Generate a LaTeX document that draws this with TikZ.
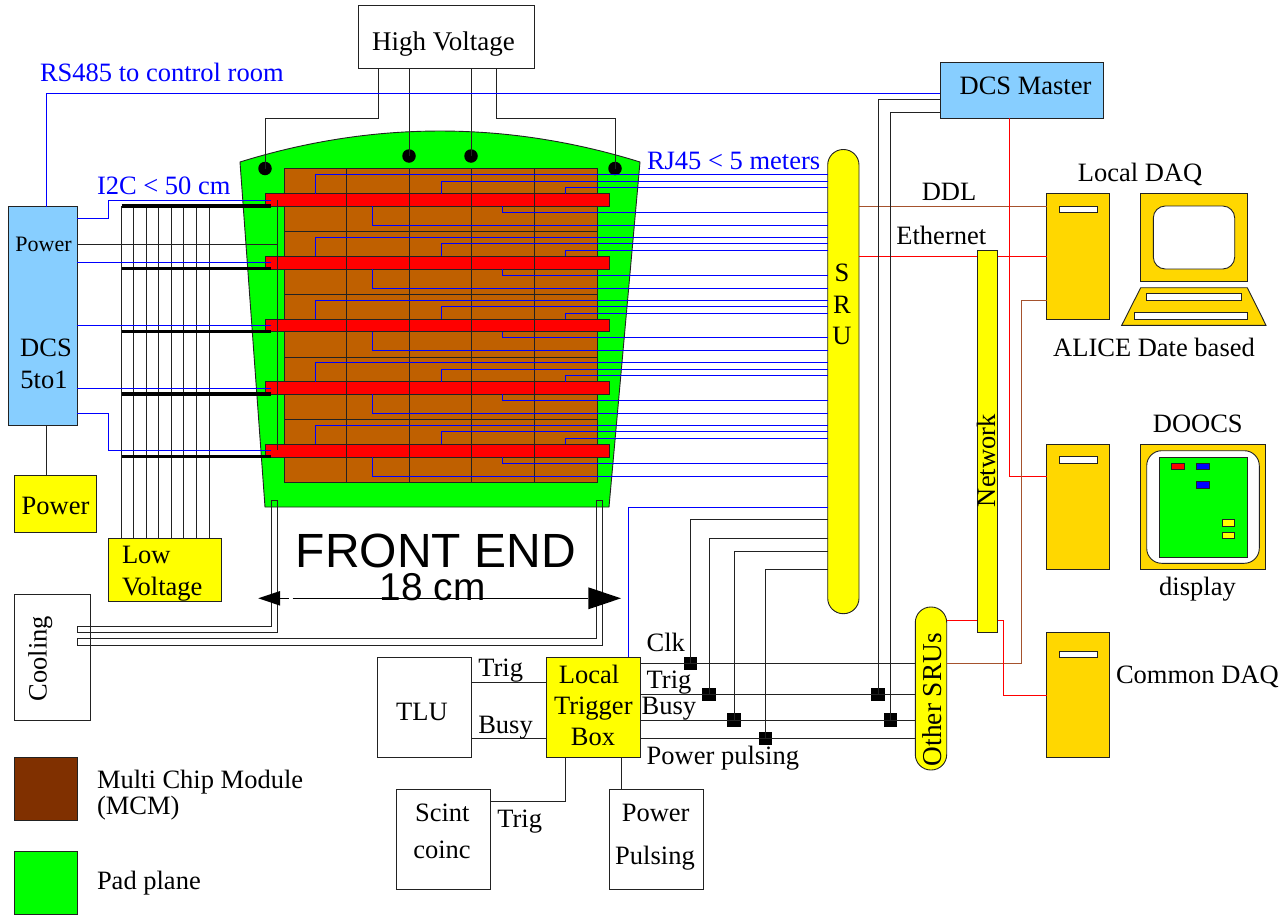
\documentclass[tikz,border=0pt]{standalone}
\usepackage{fontspec}
\setmainfont{Liberation Serif}
\setsansfont{Liberation Sans}
\definecolor{dblue}{HTML}{87CEFF}
\definecolor{gold}{HTML}{FFD700}
\definecolor{mcm}{HTML}{BF6000}
\definecolor{legbrown}{HTML}{803000}
\definecolor{wirebrown}{HTML}{A5522D}
\definecolor{wblue}{HTML}{0000FF}
\definecolor{edge}{HTML}{222222}
\definecolor{pyellow}{HTML}{FFFF00}
\definecolor{pgreen}{HTML}{00FF00}
\definecolor{pred}{HTML}{FF0000}
\tikzset{
  bx/.style={draw=edge,line width=0.9bp,inner sep=0pt,outer sep=0pt},
  whitebox/.style={bx,fill=white},
  yellowbox/.style={bx,fill=pyellow},
  bluebox/.style={bx,fill=dblue},
  goldbox/.style={bx,fill=gold},
  greenbox/.style={bx,fill=pgreen},
  lbl/.style={inner sep=0pt,outer sep=0pt,yshift=-0.7bp,font=\fontsize{26.5bp}{30bp}\selectfont,text=black},
  smalllbl/.style={lbl,font=\fontsize{22bp}{26bp}\selectfont},
  bluelbl/.style={lbl,text=wblue},
  wire/.style={draw=edge,line width=0.9bp},
  bwire/.style={draw=wblue,line width=0.9bp},
  rwire/.style={draw=pred,line width=0.9bp},
  nwire/.style={draw=wirebrown,line width=0.9bp},
  thickwire/.style={draw=black,line width=3.5bp},
  dot/.style={circle,fill=black,inner sep=0pt,minimum size=13.5bp},
  junction/.style={rectangle,fill=black,inner sep=0pt,minimum size=13.5bp},
}
% name, style, x1, y1, x2, y2
\newcommand{\pbox}[6]{%
  \pgfmathsetmacro{\pbw}{#5-#3}\pgfmathsetmacro{\pbh}{#6-#4}%
  \pgfmathsetmacro{\pbx}{(#3+#5)/2}\pgfmathsetmacro{\pby}{(#4+#6)/2}%
  \node[#2,minimum width=\pbw bp,minimum height=\pbh bp] (#1) at (\pbx,\pby) {};}
\begin{document}
\begin{tikzpicture}[x=1bp,y=-1bp,line join=miter]
\useasboundingbox (0,0) rectangle (1282,915);
% pad plane and MCM area
\draw[bx,fill=pgreen] (240,162) .. controls (373,120.7) and (507,120.7) .. (640,162) -- (609,507) -- (265,507) -- cycle;
\pbox{mcmarea}{bx,fill=mcm}{284}{168}{597}{482}
\foreach \yy in {231,294,357,419}{\draw[wire] (mcmarea.west |- 0,\yy) -- (mcmarea.east |- 0,\yy);}
% main boxes
\pbox{hv}{whitebox}{358.7}{5.7}{534}{68.7}
\pbox{dcsfive}{bluebox}{8.5}{206.5}{77}{425.5}
\pbox{dcsmaster}{bluebox}{940.3}{62.3}{1103.3}{118.3}
\pbox{pwr}{yellowbox}{14.7}{475.7}{96.3}{532}
\pbox{lv}{yellowbox}{108.5}{538}{221.5}{601}
\pbox{cooling}{whitebox}{14.7}{594.7}{90}{720}
\pbox{tlu}{whitebox}{377.3}{657.3}{471.3}{757.7}
\pbox{ltb}{yellowbox}{546.7}{657.3}{640.3}{757.7}
\pbox{scint}{whitebox}{396.3}{789}{490.3}{889}
\pbox{ppulse}{whitebox}{609}{789}{703}{889}
\pbox{legmcm}{bx,fill=legbrown}{14.7}{757.7}{77.7}{820}
\pbox{legpad}{greenbox}{14.7}{851.7}{77.7}{914.3}
\pbox{sru}{yellowbox,rounded corners=15.5bp}{827.7}{149.5}{859}{613.7}
\pbox{osru}{yellowbox,rounded corners=15.5bp}{915.3}{607}{946.7}{770}
% computers
\pbox{compa}{goldbox}{1046.7}{193.7}{1109.5}{319}
\pbox{compb}{goldbox}{1046.7}{444}{1109.5}{569.7}
\pbox{compc}{goldbox}{1046.7}{632.3}{1109.5}{757.7}
\pbox{slota}{whitebox}{1059.3}{206}{1097}{212.7}
\pbox{slotb}{whitebox}{1059.3}{456.7}{1097}{463.3}
\pbox{slotc}{whitebox}{1059.3}{651}{1097}{657.7}
% monitor and keyboard
\pbox{monitor}{goldbox}{1140.7}{193.7}{1247.3}{281.3}
\pbox{screen}{whitebox,rounded corners=12bp}{1153.3}{206}{1234.7}{269}
\draw[bx,fill=gold] (1140.7,287.7) -- (1247.3,287.7) -- (1266,325.3) -- (1121.7,325.3) -- cycle;
\pbox{keysa}{whitebox}{1146.7}{293.7}{1241}{300.3}
\pbox{keysb}{whitebox}{1134}{312.7}{1247.3}{319}
% display
\pbox{display}{goldbox}{1140.7}{444}{1265.7}{569.7}
\pbox{dispscreen}{whitebox,rounded corners=15bp}{1146.7}{450.7}{1259.3}{563.3}
\pbox{dispgreen}{greenbox}{1159.3}{457}{1247}{557}
\pbox{dispr}{bx,fill=pred}{1171.7}{463}{1184.3}{469.7}
\pbox{dispba}{bx,fill=wblue}{1196.7}{463}{1209.3}{469.7}
\pbox{dispbb}{bx,fill=wblue}{1196.7}{481.7}{1209.3}{488.3}
\pbox{dispya}{yellowbox}{1222}{519.3}{1234.7}{526}
\pbox{dispyb}{yellowbox}{1222}{532}{1234.7}{538.7}
% red/brown wires
\draw[nwire] (sru.east |- 0,206) -- (compa.west |- 0,206);
\draw[rwire] (sru.east |- 0,256.3) -- (compa.west |- 0,256.3);
\draw[rwire] (1009.3,0 |- dcsmaster.south) -- (1009.3,476) -- (compb.west |- 0,476);
\draw[nwire] (osru.east |- 0,663.5) -- (1021.7,663.5) -- (1021.7,300) -- (compa.west |- 0,300);
\draw[rwire] (osru.east |- 0,620) -- (1003,620) -- (1003,695) -- (compc.west |- 0,695);
\pbox{network}{yellowbox}{977.7}{250}{997}{632}
% red front-end bars and vertical lines
\foreach \i/\tp/\bt in {1/193.5/206,2/256/269,3/319/331.5,4/381.5/394,5/444/457}{
  \pbox{bar\i}{bx,fill=pred}{265}{\tp}{609}{\bt}
}
\foreach \xx in {346.5,409,471,534}{\draw[wire] (\xx,0 |- mcmarea.north) -- (\xx,0 |- mcmarea.south);}
% high voltage dots
\node[dot] (dota) at (265,168.5) {};
\node[dot] (dotb) at (409,156) {};
\node[dot] (dotc) at (471,156) {};
\node[dot] (dotd) at (615,168.5) {};
\draw[wire] (378,0 |- hv.south) -- (378,118) -| (dota.center);
\draw[wire] (409,0 |- hv.south) -- (dotb.center);
\draw[wire] (471,0 |- hv.south) -- (dotc.center);
\draw[wire] (496,0 |- hv.south) -- (496,118) -| (dotd.center);
% low-voltage lines
\foreach \xx in {121.3,133.7,146,158.7,171.3,183.7,196.3,209}{\draw[wire] (\xx,206) -- (\xx,0 |- lv.north);}
\foreach \yy in {206,268.5,331.5,394,456.5}{\draw[thickwire] (121.5,\yy) -- (271,\yy);}
% RJ45 blue wires
\foreach \i/\tp/\bt in {1/193.5/206,2/256/269,3/319/331.5,4/381.5/394,5/444/457}{
  \pgfmathsetmacro{\ya}{\tp-19}\pgfmathsetmacro{\yb}{\tp-12.5}\pgfmathsetmacro{\yc}{\tp-6}
  \pgfmathsetmacro{\yd}{\bt+6.3}\pgfmathsetmacro{\ye}{\bt+19}
  \draw[bwire] (315,0 |- bar\i.north) -- (315,\ya) -- (sru.west |- 0,\ya);
  \draw[bwire] (441,0 |- bar\i.north) -- (441,\yb) -- (sru.west |- 0,\yb);
  \draw[bwire] (565,0 |- bar\i.north) -- (565,\yc) -- (sru.west |- 0,\yc);
  \draw[bwire] (502,0 |- bar\i.south) -- (502,\yd) -- (sru.west |- 0,\yd);
  \draw[bwire] (372,0 |- bar\i.south) -- (372,\ye) -- (sru.west |- 0,\ye);
}
% DCS wires
\draw[bwire] (46,0 |- dcsfive.north) -- (46,93.5) -- (dcsmaster.west |- 0,93.5);
\draw[bwire] (dcsfive.east |- 0,218.5) -- (108.5,218.5) -- (108.5,200) -- (271,200);
\draw[bwire] (dcsfive.east |- 0,262.5) -- (271,262.5);
\draw[bwire] (dcsfive.east |- 0,325) -- (271,325);
\draw[bwire] (dcsfive.east |- 0,388) -- (271,388);
\draw[bwire] (dcsfive.east |- 0,413) -- (108.5,413) -- (108.5,450.7) -- (271,450.7);
\draw[wire] (dcsfive.east |- 0,244) -- (277.5,244);
\draw[wire] (277.5,200) -- (277.5,450);
\draw[wire] (46,0 |- dcsfive.south) -- (46,0 |- pwr.north);
% cooling pipes
\draw[wire] (77,626.3) -- (271,626.3) -- (271,500.7) -- (277.5,500.7) -- (277.5,632.3) -- (77,632.3) -- cycle;
\draw[wire] (77,638.7) -- (596.7,638.7) -- (596.7,500.7) -- (602.7,500.7) -- (602.7,645) -- (77,645) -- cycle;
% dimension arrow
\coordinate (dimleft) at (280,598.3);
\coordinate (dimright) at (588.3,598.3);
\fill[black] (258.3,598.3) -- (dimleft |- 0,591) -- (dimleft |- 0,605.6) -- cycle;
\fill[black] (621,598.3) -- (dimright |- 0,587.3) -- (dimright |- 0,609.3) -- cycle;
\draw[draw=black,line width=0.9bp] (dimleft) -- (288.5,598.3);
\draw[draw=black,line width=0.9bp] (292.7,598.3) -- (dimright);
% trigger wires
\node[junction] (jclk) at (690.3,663.5) {};
\node[junction] (jtrig) at (709,694.7) {};
\node[junction] (jbusy) at (734,720) {};
\node[junction] (jpp) at (765.3,738.7) {};
\node[junction] (jma) at (878,694.7) {};
\node[junction] (jmb) at (890.5,720) {};
\draw[bwire] (sru.west |- 0,507) -- (628,507) -- (628,0 |- ltb.north);
\draw[wire] (sru.west |- 0,519.7) -| (jclk.center);
\draw[wire] (sru.west |- 0,538.3) -| (jtrig.center);
\draw[wire] (sru.west |- 0,551) -| (jbusy.center);
\draw[wire] (sru.west |- 0,569.7) -| (jpp.center);
\draw[wire] (ltb.east |- jclk) -- (osru.west |- jclk);
\draw[wire] (ltb.east |- jtrig) -- (osru.west |- jtrig);
\draw[wire] (ltb.east |- jbusy) -- (osru.west |- jbusy);
\draw[wire] (ltb.east |- jpp) -- (osru.west |- jpp);
\draw[wire] (dcsmaster.west |- 0,99.7) -| (jma.center);
\draw[wire] (dcsmaster.west |- 0,112) -| (jmb.center);
\draw[wire] (tlu.east |- 0,682.3) -- (ltb.west |- 0,682.3);
\draw[wire] (tlu.east |- 0,738.7) -- (ltb.west |- 0,738.7);
\draw[wire] (scint.east |- 0,801.3) -- (565.3,801.3) -- (565.3,0 |- ltb.south);
\draw[wire] (621.7,0 |- ltb.south) -- (621.7,0 |- ppulse.north);
% text
\node[lbl,anchor=base,font=\fontsize{27bp}{30bp}\selectfont] (thv) at (443.5,50) {High Voltage};
\node[bluelbl,anchor=base west] (trs) at (40,81) {RS485 to control room};
\node[bluelbl,anchor=base west] (tic) at (97,194) {I2C < 50 cm};
\node[bluelbl,anchor=base west] (trj) at (647,168.7) {RJ45 < 5 meters};
\node[smalllbl,anchor=base] (tpw) at (43.5,250.7) {Power};
\node[lbl,anchor=base] (tdcs) at (46,355.7) {DCS};
\node[lbl,anchor=base] (tfive) at (44,388) {5to1};
\node[lbl,anchor=base] (tpwr) at (55.5,514) {Power};
\node[lbl,anchor=base west] (tlow) at (122,563.2) {Low};
\node[lbl,anchor=base west] (tvol) at (122,594.7) {Voltage};
\node[lbl,anchor=base,font=\sffamily\fontsize{48bp}{50bp}\selectfont] (tfe) at (435.8,566.7) {FRONT END};
\node[lbl,anchor=base,font=\sffamily\fontsize{38.8bp}{42bp}\selectfont] (tcm) at (432.8,600) {18 cm};
\node[lbl,anchor=base,rotate=90] (tcool) at (46.7,658) {Cooling};
\node[lbl,anchor=base] (ts) at (842,281) {S};
\node[lbl,anchor=base] (tr) at (842,312.7) {R};
\node[lbl,anchor=base] (tu) at (842,343.3) {U};
\node[lbl,anchor=base,rotate=90] (tnet) at (995,460) {Network};
\node[lbl,anchor=base,rotate=90,font=\fontsize{27.3bp}{30bp}\selectfont] (tosru) at (941.7,699) {Other SRUs};
\node[lbl,anchor=base] (tmaster) at (1025.5,93.3) {DCS Master};
\node[lbl,anchor=base] (tlocal) at (1140,181) {Local DAQ};
\node[lbl,anchor=base] (tddl) at (949,200) {DDL};
\node[lbl,anchor=base] (teth) at (941.3,244) {Ethernet};
\node[lbl,anchor=base] (talice) at (1154,356) {ALICE Date based};
\node[lbl,anchor=base] (tdoocs) at (1197.8,431.7) {DOOCS};
\node[lbl,anchor=base] (tdisp) at (1197.5,594.3) {display};
\node[lbl,anchor=base west] (tcommon) at (1116,682.7) {Common DAQ};
\node[lbl,anchor=base west] (tclk) at (646.7,650.7) {Clk};
\node[lbl,anchor=base west] (ttrigr) at (646.7,687.7) {Trig};
\node[lbl,anchor=base west] (tbusyr) at (641.7,713.3) {Busy};
\node[lbl,anchor=base west] (tpowp) at (646.7,763.3) {Power pulsing};
\node[lbl,anchor=base west] (ttrigl) at (478.3,676) {Trig};
\node[lbl,anchor=base west] (tbusyl) at (478.3,732.3) {Busy};
\node[lbl,anchor=base] (ttlu) at (422,720) {TLU};
\node[lbl,anchor=base] (tlocalb) at (589,682.3) {Local};
\node[lbl,anchor=base] (ttrigger) at (593.3,713.7) {Trigger};
\node[lbl,anchor=base] (tbox) at (593,744.7) {Box};
\node[lbl,anchor=base] (tscint) at (442.3,820.3) {Scint};
\node[lbl,anchor=base] (tcoinc) at (442,857.7) {coinc};
\node[lbl,anchor=base] (tpower) at (655.7,820.3) {Power};
\node[lbl,anchor=base] (tpulsing) at (655,864) {Pulsing};
\node[lbl,anchor=base west] (ttrigs) at (497.3,826.7) {Trig};
\node[lbl,anchor=base west] (tmultichip) at (97,788) {Multi Chip Module};
\node[lbl,anchor=base west] (tmcm) at (97,814) {(MCM)};
\node[lbl,anchor=base west] (tpad) at (97,889) {Pad plane};
\end{tikzpicture}
\end{document}
